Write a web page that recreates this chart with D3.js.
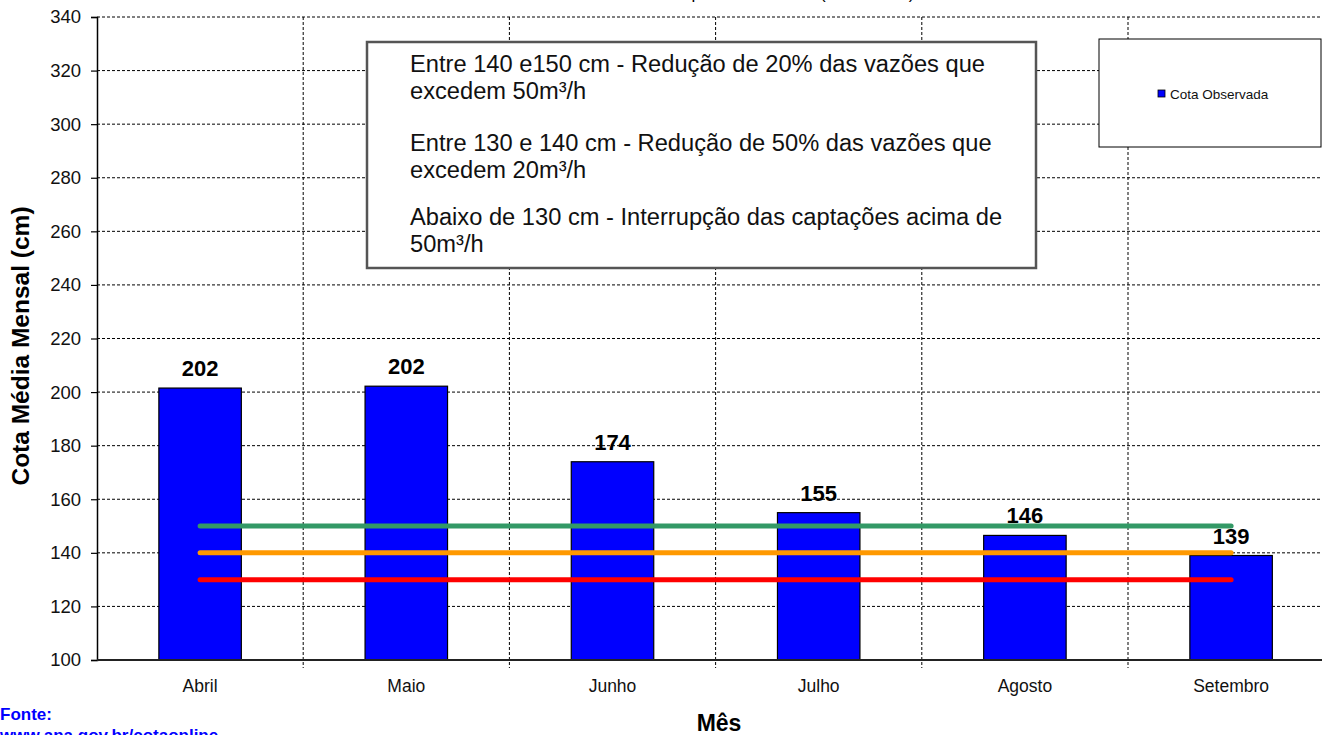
<!DOCTYPE html>
<html><head><meta charset="utf-8">
<script src="https://cdn.jsdelivr.net/npm/d3@7"></script>
<style>body{margin:0;background:#fff;overflow:hidden}svg{display:block}</style>
</head><body>
<svg id="c" width="1322" height="735"></svg>
<script>
const months = ["Abril","Maio","Junho","Julho","Agosto","Setembro"];
const cota = [201.5, 202.2, 174, 155, 146.5, 139];
const cotaLabels = ["202","202","174","155","146","139"];
const limits = [150, 140, 130];
const limitColors = ["#339966","#ff9900","#ff0000"];
const yTicks = [100,120,140,160,180,200,220,240,260,280,300,320,340];
const noteLines = [
  "Entre 140 e150 cm - Redução de 20% das vazões que",
  "excedem 50m³/h",
  "Entre 130 e 140 cm - Redução de 50% das vazões que",
  "excedem 20m³/h",
  "Abaixo de 130 cm - Interrupção das captações acima de",
  "50m³/h"
];
const titleText = "Cota Média Mensal - período de 2010 (Abril a Set.)";

const svg = d3.select("#c");
const L = 97, T = 17, B = 660, bw = 206.2;
const x = d3.scaleBand().domain(months).range([L, L + bw*months.length]).padding(0);
const y = d3.scaleLinear().domain([100,340]).range([B, T]);
const font = "'Liberation Sans', Arial, sans-serif";

// title (cut off at top, as in the reference)
const title = svg.append("text").attr("x", 0).attr("y", -1)
  .style("font-family", font).style("font-size","17px")
  .text(titleText);
{
  const n = title.node();
  const p0 = n.getSubStringLength(0, titleText.indexOf("("));
  title.attr("x", 820 - p0);
}

// horizontal grid
svg.append("g").selectAll("line").data(yTicks.slice(1)).join("line")
  .attr("x1", L).attr("x2", 1322).attr("y1", d=>y(d)).attr("y2", d=>y(d))
  .attr("stroke","#000").attr("stroke-width",1).attr("stroke-dasharray","3,2");
// vertical grid (category boundaries)
const bounds = months.slice(1).map(m => x(m));
svg.append("g").selectAll("line").data(bounds).join("line")
  .attr("x1", d=>d).attr("x2", d=>d).attr("y1", T).attr("y2", B+8)
  .attr("stroke","#000").attr("stroke-width",1).attr("stroke-dasharray","3,2");

// y axis
const ya = svg.append("g").attr("transform",`translate(${L},0)`)
  .call(d3.axisLeft(y).tickValues(yTicks).tickSize(6).tickPadding(10));
ya.select(".domain").attr("stroke","#000").attr("stroke-width",1.5);
ya.selectAll(".tick line").attr("stroke","#000").attr("stroke-width",1.2);
ya.selectAll("text").style("font-family",font).style("font-size","18.5px").attr("fill","#111");

// bars
svg.append("g").selectAll("rect").data(months).join("rect")
  .attr("x", d => x(d) + x.bandwidth()*0.3)
  .attr("width", x.bandwidth()*0.4)
  .attr("y", (d,i) => y(cota[i]))
  .attr("height", (d,i) => B - y(cota[i]))
  .attr("fill","#0000ff").attr("stroke","#000").attr("stroke-width",1.2);

// x axis line
svg.append("line").attr("x1",L).attr("x2",1322).attr("y1",B).attr("y2",B)
  .attr("stroke","#222").attr("stroke-width",2);
svg.append("g").selectAll("text").data(months).join("text")
  .attr("x", d => x(d) + x.bandwidth()/2).attr("y", 692)
  .attr("text-anchor","middle").style("font-family",font).style("font-size","17.5px")
  .attr("fill","#111").text(d=>d);

// limit lines
svg.append("g").selectAll("line").data(limits).join("line")
  .attr("x1", x(months[0]) + x.bandwidth()/2)
  .attr("x2", x(months[months.length-1]) + x.bandwidth()/2)
  .attr("y1", d=>y(d)).attr("y2", d=>y(d))
  .attr("stroke", (d,i)=>limitColors[i]).attr("stroke-width",5).attr("stroke-linecap","round");

// value labels
svg.append("g").selectAll("text").data(months).join("text")
  .attr("x", d => x(d) + x.bandwidth()/2)
  .attr("y", (d,i) => y(cota[i]) - 12)
  .attr("text-anchor","middle").style("font-family",font).style("font-size","22px")
  .style("font-weight","bold").text((d,i)=>cotaLabels[i]);

// note box
svg.append("rect").attr("x",367).attr("y",42).attr("width",669).attr("height",226)
  .attr("fill","#fff").attr("stroke","#555").attr("stroke-width",2.5);
const noteY = [72, 99, 151, 178, 225, 252];
const nt = svg.append("g").selectAll("text").data(noteLines).join("text")
  .attr("x", 410).attr("y", (d,i)=>noteY[i])
  .style("font-family",font)
  .style("font-size","23.5px").attr("fill","#111").text(d=>d);
const w0 = nt.nodes()[0].getComputedTextLength();
const k = 575 / w0;
nt.each(function(){
  const w = this.getComputedTextLength();
  d3.select(this).attr("textLength", w * k).attr("lengthAdjust","spacingAndGlyphs");
});

// legend
svg.append("rect").attr("x",1099).attr("y",39).attr("width",222).attr("height",108)
  .attr("fill","#fff").attr("stroke","#000").attr("stroke-width",1);
svg.append("rect").attr("x",1158).attr("y",90).attr("width",7).attr("height",7)
  .attr("fill","#0000ff").attr("stroke","#000").attr("stroke-width",0.8);
svg.append("text").attr("x",1170).attr("y",99).style("font-family",font).style("font-size","13.5px")
  .attr("fill","#111").text("Cota Observada");

// axis titles
svg.append("text").attr("transform","translate(29,346) rotate(-90)").attr("text-anchor","middle")
  .style("font-family",font).style("font-size","24.5px").style("font-weight","bold")
  .text("Cota Média Mensal (cm)");
svg.append("text").attr("x",719).attr("y",731).attr("text-anchor","middle")
  .style("font-family",font).style("font-size","23px").style("font-weight","bold").text("Mês");

// source
svg.append("text").attr("x",0).attr("y",720).attr("fill","#0000ff")
  .style("font-family",font).style("font-size","17px").style("font-weight","bold").text("Fonte:");
svg.append("text").attr("x",0).attr("y",741).attr("fill","#0000ff")
  .style("font-family",font).style("font-size","17px").style("font-weight","bold").text("www.ana.gov.br/cotaonline");
</script>
</body></html>
